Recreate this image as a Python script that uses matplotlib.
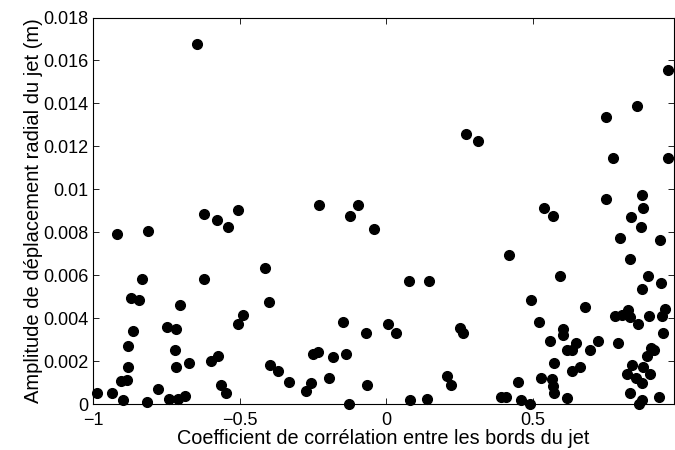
import matplotlib
matplotlib.use("Agg")
import matplotlib.pyplot as plt

plt.rcParams['font.family'] = ['Liberation Sans', 'DejaVu Sans']

# correlation coefficient between jet edges (x) and radial displacement amplitude (y, m)
correlation = [
    -0.985, -0.934, -0.899, -0.918, -0.811, -0.832, -0.872, -0.842, -0.864, -0.882,
    -0.881, -0.905, -0.885, -0.816, -0.780, -0.742, -0.711, -0.685, -0.748, -0.716,
    -0.702, -0.719, -0.718, -0.674, -0.621, -0.577, -0.540, -0.504, -0.620, -0.505,
    -0.488, -0.599, -0.572, -0.564, -0.546, -0.413, -0.401, -0.395, -0.645,
    -0.230, -0.097, -0.123, -0.041, -0.369, -0.333, -0.275, -0.255, -0.250, -0.234,
    -0.180, -0.195, -0.147, -0.137, -0.127, -0.069, -0.066, 0.008, 0.035, 0.077,
    0.147, 0.083, 0.139, 0.209, 0.222, 0.253, 0.262, 0.272,
    0.315, 0.539, 0.749, 0.751, 0.857, 0.960, 0.775, 0.960, 0.873, 0.876,
    0.568, 0.418, 0.593, 0.493, 0.523, 0.678, 0.605, 0.602, 0.560, 0.648,
    0.618, 0.635, 0.722, 0.694, 0.571, 0.634, 0.661, 0.527, 0.565, 0.568,
    0.571, 0.449, 0.391, 0.408, 0.459, 0.490, 0.618,
    0.836, 0.870, 0.797, 0.934, 0.831, 0.894, 0.938, 0.872, 0.952, 0.940,
    0.898, 0.782, 0.804, 0.824, 0.833, 0.858, 0.943, 0.790, 0.902, 0.915,
    0.889, 0.840, 0.876, 0.823, 0.899, 0.853, 0.873, 0.832, 0.932, 0.872, 0.864,
]
amplitude = [
    0.00053, 0.00053, 0.00019, 0.00790, 0.00807, 0.00581, 0.00495, 0.00486, 0.00339, 0.00269,
    0.00174, 0.00106, 0.00112, 0.00010, 0.00068, 0.00025, 0.00025, 0.00039, 0.00357, 0.00348,
    0.00460, 0.00252, 0.00174, 0.00191, 0.00886, 0.00858, 0.00824, 0.00902, 0.00581, 0.00373,
    0.00416, 0.00199, 0.00225, 0.00087, 0.00053, 0.00634, 0.00477, 0.00183, 0.01675,
    0.00928, 0.00928, 0.00877, 0.00815, 0.00155, 0.00104, 0.00061, 0.00096, 0.00234, 0.00241,
    0.00218, 0.00120, 0.00382, 0.00234, 0.00000, 0.00329, 0.00087, 0.00373, 0.00329, 0.00573,
    0.00573, 0.00017, 0.00025, 0.00130, 0.00087, 0.00356, 0.00329, 0.01259,
    0.01225, 0.00913, 0.00955, 0.01337, 0.01388, 0.01554, 0.01146, 0.01146, 0.00974, 0.00913,
    0.00877, 0.00695, 0.00598, 0.00486, 0.00382, 0.00452, 0.00349, 0.00321, 0.00295, 0.00286,
    0.00252, 0.00252, 0.00295, 0.00252, 0.00191, 0.00155, 0.00174, 0.00120, 0.00115, 0.00085,
    0.00051, 0.00104, 0.00034, 0.00034, 0.00019, 0.00001, 0.00026,
    0.00870, 0.00826, 0.00773, 0.00764, 0.00677, 0.00598, 0.00565, 0.00537, 0.00444, 0.00408,
    0.00408, 0.00408, 0.00416, 0.00438, 0.00407, 0.00373, 0.00329, 0.00286, 0.00262, 0.00252,
    0.00224, 0.00182, 0.00174, 0.00140, 0.00140, 0.00120, 0.00096, 0.00053, 0.00034, 0.00019, 0.00000,
]

xtick_vals = [-1, -0.5, 0, 0.5]
xtick_labels = ['\u22121', '\u22120.5', '0', '0.5']
ytick_vals = [0, 0.002, 0.004, 0.006, 0.008, 0.01, 0.012, 0.014, 0.016, 0.018]
ytick_labels = ['0', '0.002', '0.004', '0.006', '0.008', '0.01', '0.012', '0.014', '0.016', '0.018']

fig = plt.figure(figsize=(6.75, 4.5), dpi=100)
ax = fig.add_axes([0.1378, 0.1022, 0.8607, 0.8589])

ax.plot(correlation, amplitude, 'o', color='black', markersize=7, clip_on=False)

ax.set_xlim(-1, 0.982)
ax.set_ylim(0, 0.018)
ax.set_xticks(xtick_vals)
ax.set_xticklabels(xtick_labels)
ax.set_yticks(ytick_vals)
ax.set_yticklabels(ytick_labels)
ax.tick_params(direction='in', top=True, right=True, labelsize=13, length=4, width=0.6)
ax.tick_params(axis='x', pad=6)
ax.tick_params(axis='y', pad=3)
for s in ax.spines.values():
    s.set_linewidth(0.8)

ax.set_xlabel("Coefficient de corrélation entre les bords du jet", fontsize=14.3, labelpad=0)
ax.set_ylabel("Amplitude de déplacement radial du jet (m)", fontsize=14.5, labelpad=0)

fig.savefig("out.png", dpi=100)
